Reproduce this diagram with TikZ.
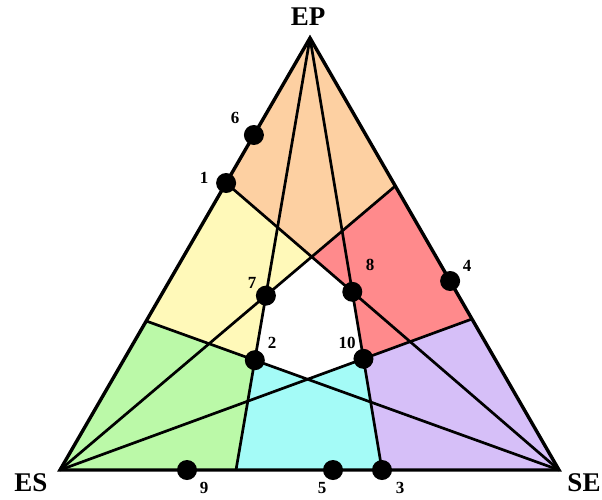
\documentclass[tikz,border=0pt]{standalone}
\usepackage{fontspec}
\setmainfont{Liberation Serif}
\definecolor{cOrange}{RGB}{253,208,162}
\definecolor{cYellow}{RGB}{255,249,185}
\definecolor{cRed}{RGB}{255,138,140}
\definecolor{cGreen}{RGB}{187,249,168}
\definecolor{cCyan}{RGB}{164,251,247}
\definecolor{cPurple}{RGB}{214,191,248}
\begin{document}
\begin{tikzpicture}[x=1pt,y=-1pt,
  edge/.style={line width=3.4pt, line join=miter},
  cut/.style={line width=2.7pt},
  dot/.style={circle, fill=black, inner sep=0pt, minimum size=20pt},
  vlabel/.style={font=\fontsize{27}{27}\selectfont\bfseries, inner sep=0pt},
  nlabel/.style={font=\fontsize{17}{17}\selectfont\bfseries, inner sep=0pt}]
\useasboundingbox (0,0) rectangle (602,499);
% triangle vertices
\coordinate (EP) at (310,38);
\coordinate (ES) at (60,470);
\coordinate (SE) at (559,470);
% points on the edges
\coordinate (P6) at (253.9,135);
\coordinate (P1) at (226.1,183);
\coordinate (L2) at (146.2,321);
\coordinate (R1) at (395.3,186);
\coordinate (P4) at (450.1,281);
\coordinate (R2) at (472.0,319);
\coordinate (P9) at (187,470);
\coordinate (B1) at (236,470);
\coordinate (P5) at (333,470);
\coordinate (P3) at (382,470);
% inner points
\coordinate (P7) at (intersection of EP--B1 and ES--R1);
\coordinate (P2) at (intersection of EP--B1 and SE--L2);
\coordinate (P8) at (intersection of EP--P3 and SE--P1);
\coordinate (P10) at (intersection of EP--P3 and ES--R2);
\coordinate (C1) at (intersection of ES--R1 and SE--P1);
\coordinate (C2) at (intersection of ES--R2 and SE--L2);
% regions
\fill[cOrange] (EP) -- (P1) -- (C1) -- (R1) -- cycle;
\fill[cYellow] (P1) -- (L2) -- (P2) -- (P7) -- (C1) -- cycle;
\fill[cRed] (R1) -- (C1) -- (P8) -- (P10) -- (R2) -- cycle;
\fill[cGreen] (ES) -- (L2) -- (P2) -- (B1) -- cycle;
\fill[cCyan] (B1) -- (P2) -- (C2) -- (P10) -- (P3) -- cycle;
\fill[cPurple] (P3) -- (P10) -- (R2) -- (SE) -- cycle;
% inner lines
\draw[cut] (EP) -- (B1);
\draw[cut] (EP) -- (P3);
\draw[cut] (ES) -- (R1);
\draw[cut] (ES) -- (R2);
\draw[cut] (SE) -- (P1);
\draw[cut] (SE) -- (L2);
% border
\draw[edge] (EP) -- (ES) -- (SE) -- cycle;
% dots
\node[dot] (d6) at (P6) {};
\node[dot] (d1) at (P1) {};
\node[dot] (d7) at (P7) {};
\node[dot] (d8) at (P8) {};
\node[dot] (d4) at (P4) {};
\node[dot] (d2) at (P2) {};
\node[dot] (d10) at (P10) {};
\node[dot] (d9) at (P9) {};
\node[dot] (d5) at (P5) {};
\node[dot] (d3) at (P3) {};
% vertex labels
\node[vlabel] (tEP) at (308,17) {EP};
\node[vlabel] (tES) at (31,483) {ES};
\node[vlabel] (tSE) at (584,483) {SE};
% number labels
\node[nlabel] (t6) at (235,118) {6};
\node[nlabel] (t1) at (204,178) {1};
\node[nlabel] (t7) at (252,283) {7};
\node[nlabel] (t8) at (370,265) {8};
\node[nlabel] (t4) at (467,266) {4};
\node[nlabel] (t2) at (272,343) {2};
\node[nlabel] (t10) at (347,343) {10};
\node[nlabel] (t9) at (204,488) {9};
\node[nlabel] (t5) at (322,488) {5};
\node[nlabel] (t3) at (400,488) {3};
\end{tikzpicture}
\end{document}
